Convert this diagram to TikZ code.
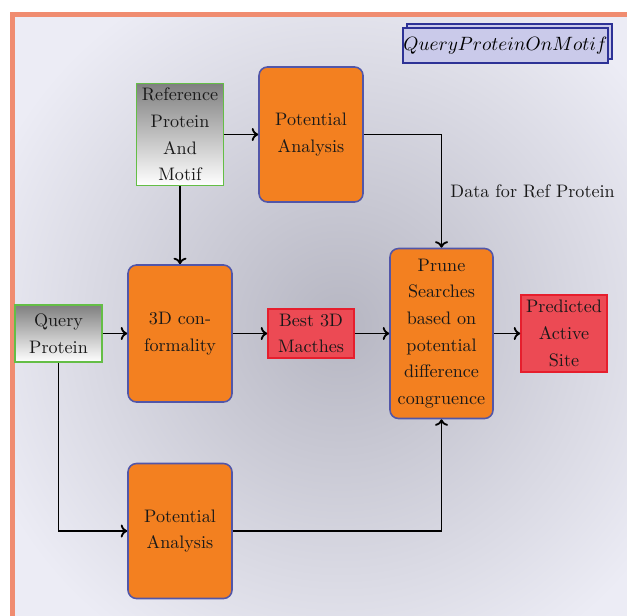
\documentclass[tikz,border=0pt]{standalone}
\usepackage{fontspec}
\usetikzlibrary{arrows.meta, positioning}
\definecolor{framesalmon}{RGB}{240,140,112}
\definecolor{bglavender}{RGB}{236,236,245}
\definecolor{bggray}{RGB}{182,182,194}
\definecolor{procorange}{RGB}{243,128,32}
\definecolor{procline}{RGB}{82,86,168}
\definecolor{resultred}{RGB}{236,74,84}
\definecolor{resultline}{RGB}{230,30,45}
\definecolor{inputgreen}{RGB}{100,190,70}
\definecolor{titlefill}{RGB}{202,202,234}
\definecolor{titleline}{RGB}{45,50,150}
\tikzset{
  txt/.style={font=\fontsize{10.3}{15.2}\selectfont, align=center, text=black!90, inner sep=0pt},
  procbox/.style={txt, draw=procline, line width=0.9pt, fill=procorange, rounded corners=0.17cm,
    minimum width=2.08cm, minimum height=2.7cm},
  inputbox/.style={txt, draw=inputgreen, line width=1.1pt, top color=black!50, bottom color=white,
    minimum width=1.74cm},
  resultbox/.style={txt, draw=resultline, line width=0.9pt, fill=resultred, minimum width=1.72cm},
  titlebox/.style={draw=titleline, line width=1pt, fill=titlefill, minimum width=4.1cm,
    minimum height=0.7cm, inner sep=0pt},
  flow/.style={-{To[length=1.3mm, width=2.6mm]}, line width=1.05pt, black},
}

\begin{document}
\begin{tikzpicture}
  \clip (0,0) rectangle (12.54,-12.3);

  % frame and shaded background
  \fill[bglavender] (0.25,-0.29) rectangle (13,-13);
  \begin{scope}
    \clip (0.25,-0.29) rectangle (13,-13);
    \shade[inner color=bggray, outer color=bglavender] (6.8,-6.5) circle (7.6);
  \end{scope}
  \draw[framesalmon, line width=0.1cm] (0.25,-0.29) rectangle (13,-13);

  % title
  \node[titlebox] (titleback) at (10.19,-0.83) {};
  \node[titlebox, font=\fontsize{10.95}{13}\selectfont] (title) at (10.11,-0.91) {$QueryProteinOnMotif$};

  % inputs
  \node[inputbox, minimum height=2.04cm] (ref) at (3.6,-2.69) {Reference\\Protein\\And\\Motif};
  \node[inputbox, minimum height=1.14cm] (query) at (1.17,-6.67) {Query\\Protein};

  % processing steps
  \node[procbox] (potA) at (6.22,-2.69) {Potential\\Analysis};
  \node[procbox, minimum height=2.74cm] (conf) at (3.6,-6.67) {3D con-\\formality};
  \node[procbox, minimum width=2.06cm, minimum height=3.4cm] (prune) at (8.83,-6.67)
    {Prune\\Searches\\based on\\potential\\difference\\congruence};
  \node[procbox] (potB) at (3.6,-10.62) {Potential\\Analysis};

  % results
  \node[resultbox, minimum height=0.98cm] (best) at (6.22,-6.67) {Best 3D\\Macthes};
  \node[resultbox, minimum height=1.54cm] (pred) at (11.28,-6.67) {Predicted\\Active\\Site};

  % connectors
  \draw[flow] (ref) -- (potA);
  \draw[flow] (ref) -- (conf);
  \draw[flow] (query) -- (conf);
  \draw[flow] (conf) -- (best);
  \draw[flow] (best) -- (prune);
  \draw[flow] (prune) -- (pred);
  \draw[flow] (potA.east) -| (prune.north)
    node[txt, pos=0.75, right=0.16cm] (datalabel) {Data for Ref Protein};
  \draw[flow] (query.south) |- (potB.west);
  \draw[flow] (potB.east) -| (prune.south);
\end{tikzpicture}
\end{document}
